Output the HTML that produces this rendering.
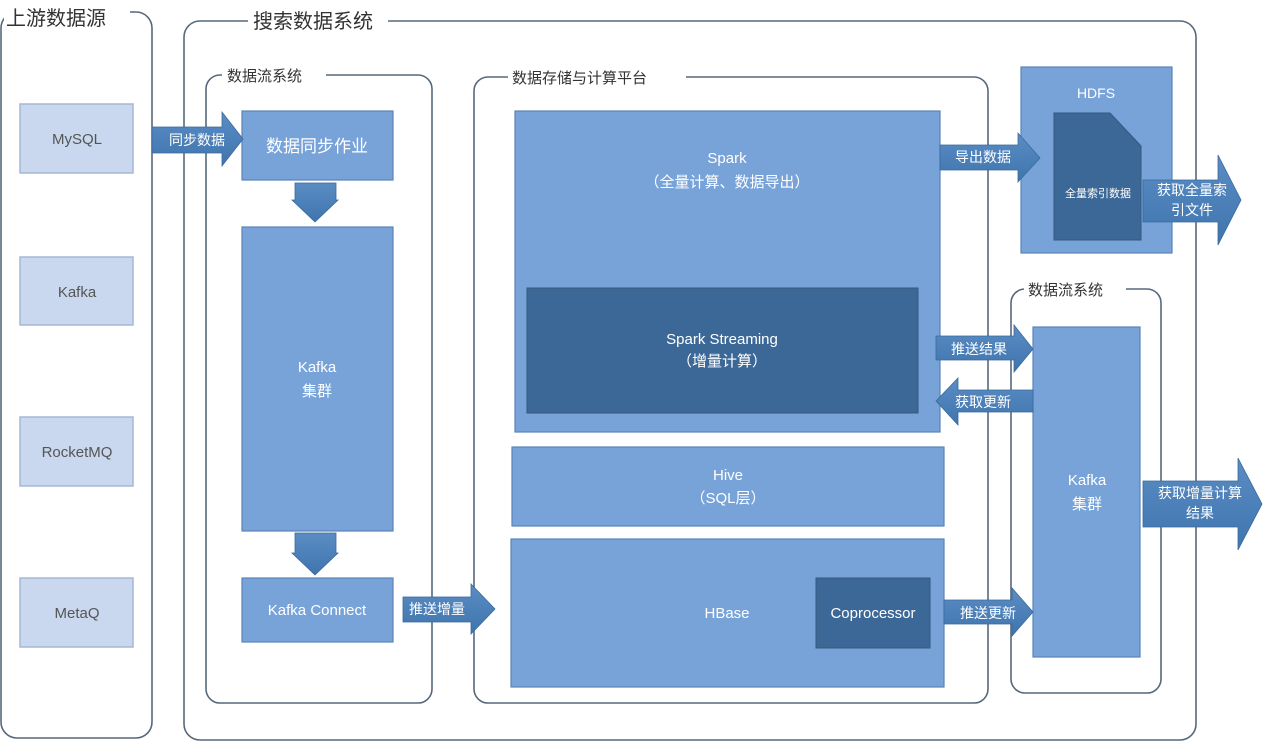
<!DOCTYPE html>
<html><head><meta charset="utf-8"><style>
body{margin:0;background:#fff}
svg text{font-family:"Liberation Sans","Noto Sans CJK SC",sans-serif}
</style></head><body>
<svg width="1267" height="742" viewBox="0 0 1267 742" xmlns="http://www.w3.org/2000/svg">
<defs>
<linearGradient id="ag" x1="0" y1="0" x2="0" y2="1"><stop offset="0" stop-color="#5b8dc4"/><stop offset="1" stop-color="#3f74ad"/></linearGradient>
</defs>
<g fill="none" stroke="#56687c" stroke-width="1.6">
<rect x="1" y="12" width="151" height="726" rx="16"/>
<rect x="184" y="21" width="1012" height="719" rx="16"/>
<rect x="206" y="75" width="226" height="628" rx="14"/>
<rect x="474" y="77" width="514" height="626" rx="14"/>
<rect x="1011" y="289" width="150" height="404" rx="14"/>
</g>
<g fill="#fff">
<rect x="4" y="5" width="126" height="26"/>
<rect x="248" y="9" width="140" height="24"/>
<rect x="222" y="65" width="104" height="20"/>
<rect x="508" y="67" width="178" height="20"/>
<rect x="1024" y="279" width="102" height="20"/>
</g>
<g font-size="20" fill="#333"><text x="6" y="25">上游数据源</text><text x="253" y="28">搜索数据系统</text></g>
<g font-size="15" fill="#333"><text x="227" y="81">数据流系统</text><text x="512" y="83">数据存储与计算平台</text><text x="1028" y="295">数据流系统</text></g>
<g fill="#c9d8ee" stroke="#a3b8d6" stroke-width="1.5">
<rect x="20" y="104" width="113" height="69"/><rect x="20" y="257" width="113" height="68"/><rect x="20" y="417" width="113" height="69"/><rect x="20" y="578" width="113" height="69"/>
</g>
<g font-size="15" fill="#555" text-anchor="middle"><text x="77" y="144">MySQL</text><text x="77" y="297">Kafka</text><text x="77" y="457">RocketMQ</text><text x="77" y="618">MetaQ</text></g>
<g fill="#77a3d9" stroke="#5a84b8" stroke-width="1.2">
<rect x="242" y="111" width="151" height="69"/>
<rect x="242" y="227" width="151" height="304"/>
<rect x="242" y="578" width="151" height="64"/>
<rect x="515" y="111" width="425" height="321"/>
<rect x="512" y="447" width="432" height="79"/>
<rect x="511" y="539" width="433" height="148"/>
<rect x="1021" y="67" width="151" height="186"/>
<rect x="1033" y="327" width="107" height="330"/>
</g>
<g fill="#3c6897" stroke="#33597f" stroke-width="1">
<rect x="527" y="288" width="391" height="125"/>
<rect x="816" y="578" width="114" height="70"/>
<path d="M1054 113 H1110 L1141 146 V240 H1054 Z"/>
</g>
<!-- arrows -->
<g fill="url(#ag)" stroke="#3a6a9c" stroke-width="0.8">
<path d="M295 183 H336 V200 H338 L315 222 L292 200 H295 Z"/>
<path d="M295 533 H336 V553 H338 L315 575 L292 553 H295 Z"/>
<path d="M152 127 H222 V112 L243 139 L222 166 V153 H152 Z"/>
<path d="M403 597 H471 V584 L495 609 L471 634 V622 H403 Z"/>
<path d="M940 145 H1018 V133 L1040 158 L1018 182 V170 H940 Z"/>
<path d="M1143 180 H1218 V155 L1241 200 L1218 245 V222 H1143 Z"/>
<path d="M936 336 H1014 V325 L1033 349 L1014 372 V360 H936 Z"/>
<path d="M1033 390 H958 V378 L936 401 L958 425 V412 H1033 Z"/>
<path d="M1143 481 H1238 V458 L1262 504 L1238 550 V527 H1143 Z"/>
<path d="M944 600 H1012 V588 L1033 612 L1012 636 V624 H944 Z"/>
</g>
<g fill="#fff" text-anchor="middle">
<text x="317" y="152" font-size="17">数据同步作业</text>
<text x="317" y="372" font-size="15">Kafka</text><text x="317" y="396" font-size="15">集群</text>
<text x="317" y="615" font-size="15">Kafka Connect</text>
<text x="727" y="163" font-size="15">Spark</text><text x="727" y="187" font-size="15">（全量计算、数据导出）</text>
<text x="722" y="344" font-size="15">Spark Streaming</text><text x="722" y="366" font-size="15">（增量计算）</text>
<text x="728" y="480" font-size="15">Hive</text><text x="728" y="503" font-size="15">（SQL层）</text>
<text x="727" y="618" font-size="15">HBase</text>
<text x="873" y="618" font-size="15">Coprocessor</text>
<text x="1096" y="98" font-size="14">HDFS</text>
<text x="1098" y="197" font-size="11">全量索引数据</text>
<text x="1087" y="485" font-size="15">Kafka</text><text x="1087" y="509" font-size="15">集群</text>
<g font-size="14">
<text x="197" y="145">同步数据</text>
<text x="437" y="614">推送增量</text>
<text x="983" y="162">导出数据</text>
<text x="1192" y="195">获取全量索</text><text x="1192" y="215">引文件</text>
<text x="979" y="354">推送结果</text>
<text x="983" y="407">获取更新</text>
<text x="1200" y="498">获取增量计算</text><text x="1200" y="518">结果</text>
<text x="988" y="618">推送更新</text>
</g>
</g>
</svg>
</body></html>
